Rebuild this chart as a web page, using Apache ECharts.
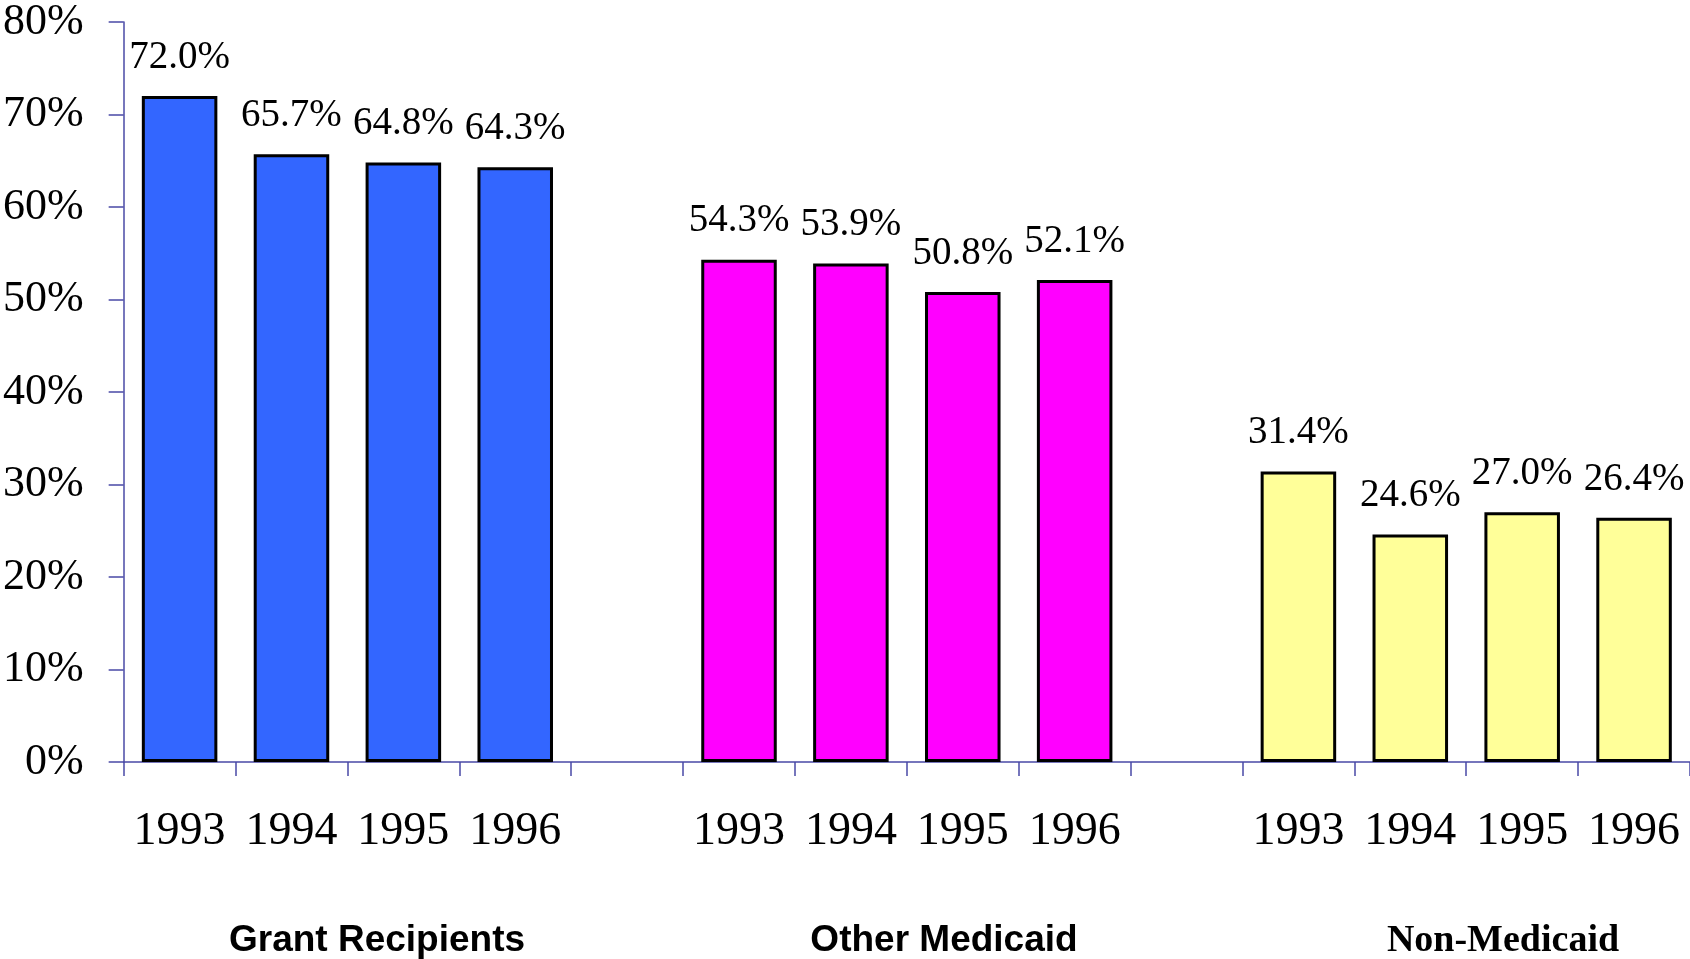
<!DOCTYPE html>
<html>
<head>
<meta charset="utf-8">
<script src="https://cdn.jsdelivr.net/npm/echarts@6/dist/echarts.min.js"></script>
<style>
html,body{margin:0;padding:0;background:#fff;}
#c{width:1690px;height:959px;}
</style>
</head>
<body>
<div id="c"></div>
<script>
var categories = ['1993','1994','1995','1996','','1993','1994','1995','1996','','1993','1994','1995','1996'];
var values = [72.0,65.7,64.8,64.3,null,54.3,53.9,50.8,52.1,null,31.4,24.6,27.0,26.4];
var groupOf = [0,0,0,0,-1,1,1,1,1,-1,2,2,2,2];
var groupNames = ['Grant Recipients','Other Medicaid','Non-Medicaid'];
var groupColors = ['#3366FF','#FF00FF','#FFFF99'];
var yTicks = [0,10,20,30,40,50,60,70,80];

var chart = echarts.init(document.getElementById('c'));
var axisColor = '#4a4aa6';
var data = values.map(function(v,i){
  return {value:v, itemStyle:{color: groupOf[i] >= 0 ? groupColors[groupOf[i]] : 'transparent'}};
});
chart.setOption({
  animation:false,
  grid:{left:123, right:-4, top:19, bottom:197, containLabel:false},
  xAxis:{
    type:'category', data:categories, boundaryGap:true,
    axisLine:{lineStyle:{color:axisColor,width:1.5}},
    axisTick:{show:true, length:14, inside:false, alignWithLabel:false, interval:0, lineStyle:{color:axisColor,width:1.5}},
    axisLabel:{interval:0, margin:47, fontFamily:'Liberation Serif', fontSize:46, color:'#000'}
  },
  yAxis:{
    type:'value', min:yTicks[0], max:yTicks[yTicks.length-1], interval:10,
    axisLine:{show:true, lineStyle:{color:axisColor,width:1.5}},
    axisTick:{show:true, length:15, lineStyle:{color:axisColor,width:1.5}},
    splitLine:{show:false},
    axisLabel:{margin:40, fontFamily:'Liberation Serif', fontSize:44, color:'#000', formatter:function(v){return v+'%';}}
  },
  series:[{
    type:'bar', data:data, barCategoryGap:'32.5%',
    itemStyle:{borderColor:'#000', borderWidth:3},
    label:{show:true, position:'top', distance:19, fontFamily:'Liberation Serif', fontSize:39, color:'#000',
      formatter:function(p){return p.value==null?'':p.value.toFixed(1)+'%';}}
  }],
  graphic:[
    {type:'text', x:377, y:941, style:{text:groupNames[0], font:'bold 37px "Liberation Sans"', fill:'#000', align:'center', verticalAlign:'middle'}},
    {type:'text', x:944, y:941, style:{text:groupNames[1], font:'bold 37px "Liberation Sans"', fill:'#000', align:'center', verticalAlign:'middle'}},
    {type:'text', x:1503, y:941, style:{text:groupNames[2], font:'bold 38px "Liberation Serif"', fill:'#000', align:'center', verticalAlign:'middle'}}
  ]
});
</script>
</body>
</html>
